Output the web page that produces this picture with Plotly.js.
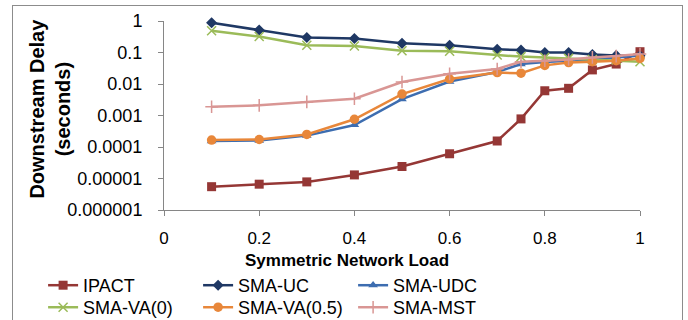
<!DOCTYPE html>
<html>
<head>
<meta charset="utf-8">
<script src="https://cdn.plot.ly/plotly-3.0.1.min.js"></script>
<style>
  html, body { margin: 0; padding: 0; width: 688px; height: 320px; overflow: hidden; background: #fff; }
  #frame { position: absolute; left: 12px; top: 5px; width: 671px; height: 340px; border: 1px solid #8c8c8c; box-sizing: border-box; pointer-events: none; }
  #chart { position: absolute; left: 0; top: 0; width: 688px; height: 320px; }
</style>
</head>
<body>
<div id="chart"></div>
<div id="frame"></div>
<script>
// ---- data ----
var load = [0.1, 0.2, 0.3, 0.4, 0.5, 0.6, 0.7, 0.75, 0.8, 0.85, 0.9, 0.95, 1.0];

var ipact   = [5.5e-6, 6.6e-6, 7.8e-6, 1.3e-5, 2.4e-5, 6.1e-5, 1.55e-4, 7.8e-4, 6.1e-3, 7.3e-3, 0.028, 0.043, 0.106];
var smaUC   = [0.88, 0.52, 0.30, 0.28, 0.195, 0.17, 0.126, 0.12, 0.10, 0.10, 0.087, 0.081, 0.079];
var smaUDC  = [1.55e-4, 1.6e-4, 2.3e-4, 5.0e-4, 0.0033, 0.012, 0.024, 0.043, 0.050, 0.055, 0.060, 0.070, 0.080];
var smaVA0  = [0.49, 0.32, 0.17, 0.16, 0.114, 0.11, 0.083, 0.074, 0.070, 0.065, 0.060, 0.058, 0.051];
var smaVA05 = [1.66e-4, 1.73e-4, 2.5e-4, 7.6e-4, 0.0048, 0.0144, 0.023, 0.022, 0.039, 0.048, 0.051, 0.055, 0.065];
var smaMST  = [0.0019, 0.0021, 0.0027, 0.0034, 0.0116, 0.021, 0.030, 0.051, 0.055, 0.060, 0.070, 0.077, 0.090];

var seriesNames = ['IPACT', 'SMA-UC', 'SMA-UDC', 'SMA-VA(0)', 'SMA-VA(0.5)', 'SMA-MST'];

var yTickVals = [1e-6, 1e-5, 1e-4, 1e-3, 1e-2, 1e-1, 1];
var yTickText = ['0.000001', '0.00001', '0.0001', '0.001', '0.01', '0.1', '1'];
var xTickVals = [0, 0.2, 0.4, 0.6, 0.8, 1];
var xTickText = ['0', '0.2', '0.4', '0.6', '0.8', '1'];

var xTitle = 'Symmetric Network Load';
var yTitle = 'Downstream Delay<br>(seconds)';

// ---- styles ----
var FONT = 'Liberation Sans, Arial, Helvetica, sans-serif';
var styles = [
  {color: '#953735', symbol: 'square', size: 9, legend: 'legend'},
  {color: '#1F3864', symbol: 'diamond', size: 8.5, legend: 'legend'},
  {color: '#3D6DB0', symbol: 'triangle-up', size: 8.5, legend: 'legend'},
  {color: '#9BBB59', symbol: 'x-thin-open', size: 9, legend: 'legend2'},
  {color: '#E8873A', symbol: 'circle', size: 9.5, legend: 'legend2'},
  {color: '#D99694', symbol: 'cross-thin-open', size: 9, legend: 'legend2'}
];
var values = [ipact, smaUC, smaUDC, smaVA0, smaVA05, smaMST];

var traces = values.map(function (v, i) {
  var s = styles[i];
  return {
    type: 'scatter', mode: 'lines+markers',
    x: load, y: v, name: seriesNames[i],
    legend: s.legend,
    cliponaxis: false,
    line: {color: s.color, width: 2.5},
    marker: {color: s.color, symbol: s.symbol, size: s.size,
             line: {color: s.color, width: (s.symbol.indexOf('thin') >= 0 ? 1.5 : 0)}}
  };
});

var axisGrey = '#868686';
var legendCommon = {
  orientation: 'h', xanchor: 'left', yanchor: 'middle',
  entrywidth: 110, entrywidthmode: 'pixels',
  font: {family: FONT, size: 18, color: '#000'},
  bgcolor: 'rgba(0,0,0,0)', tracegroupgap: 0, itemwidth: 30
};

var layout = {
  width: 688, height: 320,
  margin: {l: 164, r: 48, t: 21, b: 110, pad: 0, autoexpand: false},
  paper_bgcolor: '#fff', plot_bgcolor: '#fff',
  font: {family: FONT, color: '#000'},
  showlegend: true,
  legend: Object.assign({}, legendCommon, {x: -0.254, y: -0.3995}),
  legend2: Object.assign({}, legendCommon, {x: -0.254, y: -0.516}),
  xaxis: {
    range: [0, 1], tickvals: xTickVals, ticktext: xTickText,
    showgrid: false, zeroline: false, showline: true, linecolor: axisGrey, linewidth: 1,
    ticks: 'outside', ticklen: 5, tickcolor: axisGrey, tickwidth: 1,
    tickfont: {family: FONT, size: 17, color: '#000'}, ticklabelstandoff: 8
  },
  yaxis: {
    type: 'log', range: [-6, 0], tickvals: yTickVals, ticktext: yTickText,
    showgrid: false, zeroline: false, showline: true, linecolor: axisGrey, linewidth: 1,
    ticks: 'outside', ticklen: 5, tickcolor: axisGrey, tickwidth: 1,
    tickfont: {family: FONT, size: 18, color: '#000'}, ticklabelstandoff: 12
  },
  annotations: [
    {text: '<b>' + xTitle + '</b>', xref: 'paper', yref: 'paper', x: 0.3845, y: -0.2646,
     xanchor: 'center', yanchor: 'middle', showarrow: false,
     font: {family: FONT, size: 17, color: '#000'}},
    {text: '<b>' + yTitle + '</b>', xref: 'paper', yref: 'paper', x: -0.2384, y: 0.534,
     xanchor: 'center', yanchor: 'middle', showarrow: false, textangle: -90,
     font: {family: FONT, size: 20, color: '#000'}}
  ]
};

Plotly.newPlot('chart', traces, layout, {staticPlot: true, displayModeBar: false});
</script>
</body>
</html>
